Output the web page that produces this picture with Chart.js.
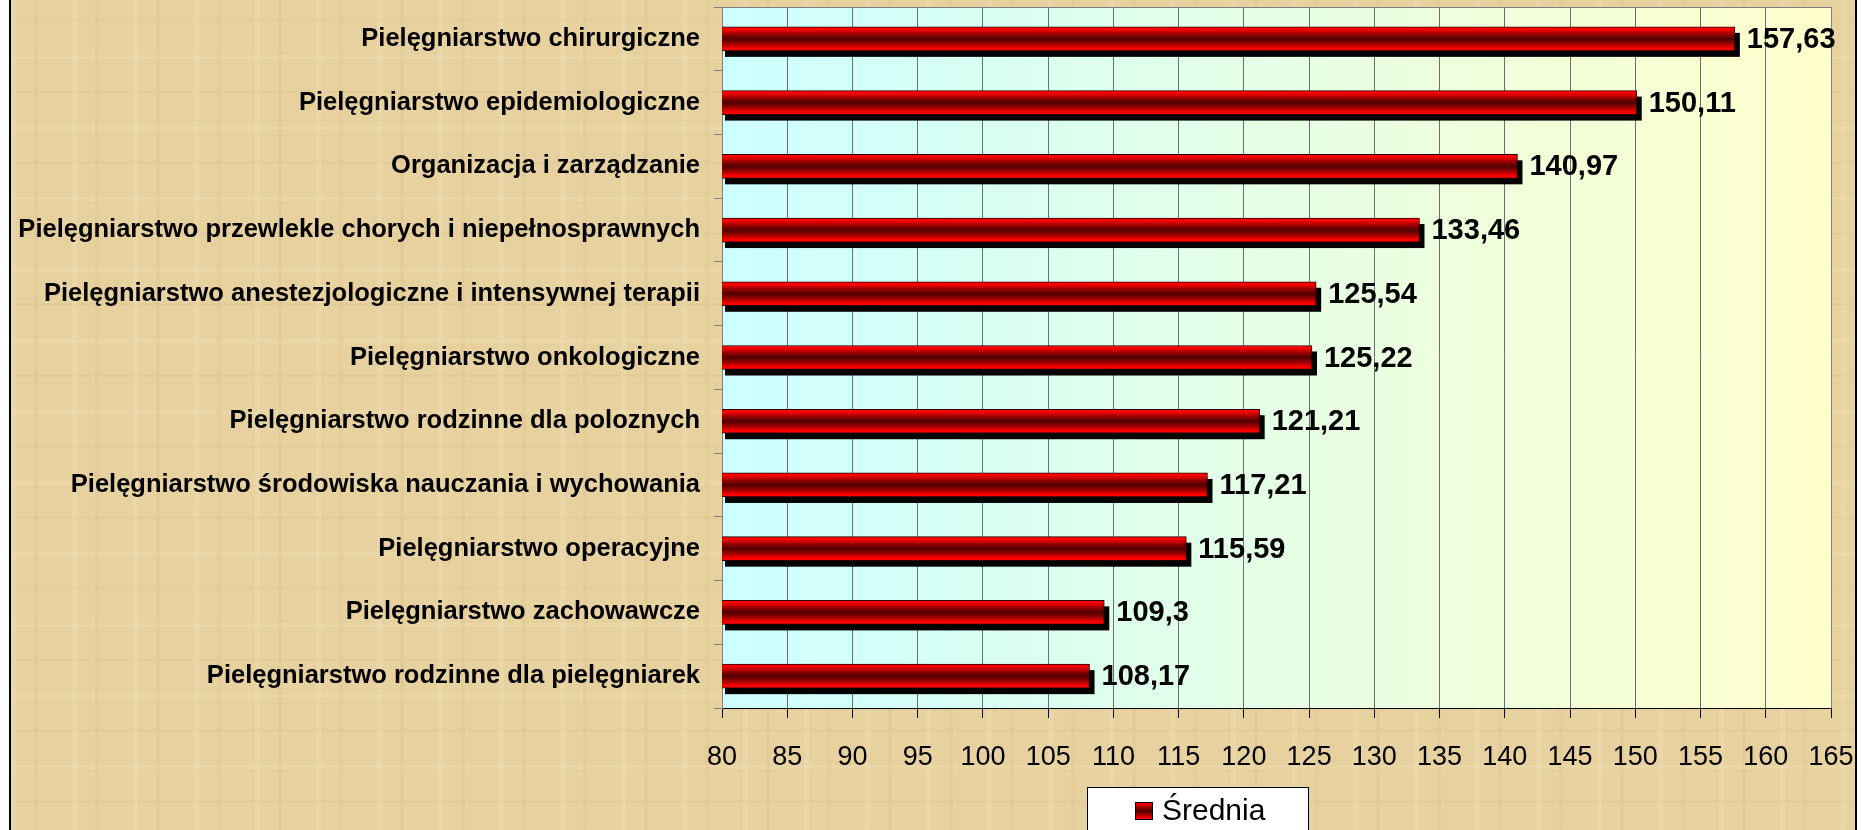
<!DOCTYPE html>
<html lang="pl">
<head>
<meta charset="utf-8">
<script src="https://cdn.jsdelivr.net/npm/chart.js@4.4.1/dist/chart.umd.min.js"></script>
<style>
html, body { margin: 0; padding: 0; background: #fff; }
#wrap { position: relative; width: 1872px; height: 830px; overflow: hidden; }
#paper {
    position: absolute; left: 9px; top: 0; width: 1844px; height: 840px;
    border-left: 2px solid #000; border-right: 2px solid #000;
    background-color: #E7D19F;
    background-image:
        repeating-linear-gradient(90deg, rgba(255,250,230,0.12) 0 5px, transparent 5px 23px, rgba(150,110,40,0.05) 23px 27px, transparent 27px 61px),
        repeating-linear-gradient(0deg, rgba(255,250,230,0.10) 0 4px, transparent 4px 37px, rgba(150,110,40,0.04) 37px 40px, transparent 40px 71px);
}
canvas { position: absolute; left: 0; top: 0; }
</style>
</head>
<body>
<div id="wrap">
    <div id="paper"></div>
    <canvas id="chart" width="1872" height="830"></canvas>
</div>
<script>
const categories = [
    "Pielęgniarstwo chirurgiczne",
    "Pielęgniarstwo epidemiologiczne",
    "Organizacja i zarządzanie",
    "Pielęgniarstwo przewlekle chorych i niepełnosprawnych",
    "Pielęgniarstwo anestezjologiczne i intensywnej terapii",
    "Pielęgniarstwo onkologiczne",
    "Pielęgniarstwo rodzinne dla poloznych",
    "Pielęgniarstwo środowiska nauczania i wychowania",
    "Pielęgniarstwo operacyjne",
    "Pielęgniarstwo zachowawcze",
    "Pielęgniarstwo rodzinne dla pielęgniarek"
];
const srednia = [157.63, 150.11, 140.97, 133.46, 125.54, 125.22, 121.21, 117.21, 115.59, 109.3, 108.17];
const seriesName = "Średnia";
const xMin = 80, xMax = 165, xStep = 5;

const FONT = "'Liberation Sans', Arial, sans-serif";

// pionowy gradient słupka: czerwony - ciemny - czerwony
function redGradient(ctx, top, bottom) {
    const g = ctx.createLinearGradient(0, top, 0, bottom);
    g.addColorStop(0, '#ff0000');
    g.addColorStop(0.1, '#ff0000');
    g.addColorStop(0.3, '#9a0000');
    g.addColorStop(0.5, '#500000');
    g.addColorStop(0.7, '#9a0000');
    g.addColorStop(0.9, '#ff0000');
    g.addColorStop(1, '#ff0000');
    return g;
}

function barFill(c) {
    const chart = c.chart;
    const y = chart.scales.y;
    if (!y || c.dataIndex === undefined) return '#cc0000';
    const yc = y.getPixelForValue(c.dataIndex);
    if (!isFinite(yc)) return '#cc0000';
    return redGradient(chart.ctx, yc - 12, yc + 12);
}

const paperPlugin = {
    id: 'paper',
    beforeDraw(chart) {
        const { ctx, chartArea: a } = chart;
        ctx.save();
        const g = ctx.createLinearGradient(a.left, 0, a.right, 0);
        g.addColorStop(0, '#ccffff');
        g.addColorStop(1, '#ffffcc');
        ctx.fillStyle = g;
        ctx.fillRect(a.left, a.top, a.right - a.left, a.bottom - a.top);
        ctx.restore();
    },
    beforeDatasetsDraw(chart) {
        const { ctx, chartArea: a } = chart;
        ctx.save();
        // ramka obszaru wykresu (góra i prawa)
        ctx.strokeStyle = '#808080';
        ctx.lineWidth = 1;
        ctx.beginPath();
        ctx.moveTo(a.left, a.top + 0.5);
        ctx.lineTo(a.right + 0.5, a.top + 0.5);
        ctx.lineTo(a.right + 0.5, a.bottom);
        ctx.stroke();
        // cienie słupków
        ctx.fillStyle = '#000';
        chart.getDatasetMeta(0).data.forEach(b => {
            const h = b.height;
            const x0 = Math.max(b.base, a.left) + 3;
            ctx.fillRect(x0, b.y - h / 2 + 6, b.x + 5 - x0, h);
        });
        ctx.restore();
    },
    afterDatasetsDraw(chart) {
        const { ctx } = chart;
        ctx.save();
        ctx.font = 'bold 29px ' + FONT;
        ctx.fillStyle = '#000';
        ctx.textAlign = 'left';
        ctx.textBaseline = 'middle';
        chart.getDatasetMeta(0).data.forEach((b, i) => {
            ctx.fillText(String(srednia[i]).replace('.', ','), b.x + 12, b.y + 1);
        });
        ctx.restore();
    },
    afterDraw(chart) {
        const { ctx } = chart;
        ctx.save();
        // legenda
        ctx.fillStyle = '#fff';
        ctx.fillRect(1087, 787, 221, 60);
        ctx.strokeStyle = '#000';
        ctx.lineWidth = 1;
        ctx.strokeRect(1087.5, 787.5, 221, 60);
        ctx.fillStyle = redGradient(ctx, 802, 820);
        ctx.fillRect(1135, 802, 17, 17);
        ctx.strokeRect(1135.5, 802.5, 17, 17);
        ctx.fillStyle = '#000';
        ctx.font = '30px ' + FONT;
        ctx.textAlign = 'left';
        ctx.textBaseline = 'alphabetic';
        ctx.fillText(seriesName, 1162, 820);
        ctx.restore();
    }
};

new Chart(document.getElementById('chart'), {
    type: 'bar',
    data: {
        labels: categories,
        datasets: [{
            label: seriesName,
            data: srednia,
            backgroundColor: barFill,
            borderColor: '#2a0000',
            borderWidth: 1,
            borderSkipped: false,
            barThickness: 24
        }]
    },
    options: {
        indexAxis: 'y',
        responsive: false,
        animation: false,
        layout: { padding: { left: 0, top: 7, right: 41, bottom: 0 } },
        plugins: { legend: { display: false }, tooltip: { enabled: false } },
        scales: {
            x: {
                min: xMin, max: xMax,
                ticks: {
                    stepSize: xStep, color: '#000', padding: 23,
                    font: { family: FONT, size: 27 }
                },
                grid: { color: '#6e6e6e', lineWidth: 1, tickLength: 10, tickColor: '#000' },
                border: { color: '#000' },
                afterFit(s) { s.height = 122; s.paddingLeft = 0; s.paddingRight = 0; }
            },
            y: {
                ticks: {
                    color: '#000', padding: 14, autoSkip: false,
                    font: { family: FONT, size: 25.5, weight: 'bold' }
                },
                grid: { drawOnChartArea: false, tickLength: 8, color: '#808080' },
                border: { color: '#808080' },
                afterFit(s) { s.width = 722; s.paddingTop = 0; s.paddingBottom = 0; }
            }
        }
    },
    plugins: [paperPlugin]
});
</script>
</body>
</html>
